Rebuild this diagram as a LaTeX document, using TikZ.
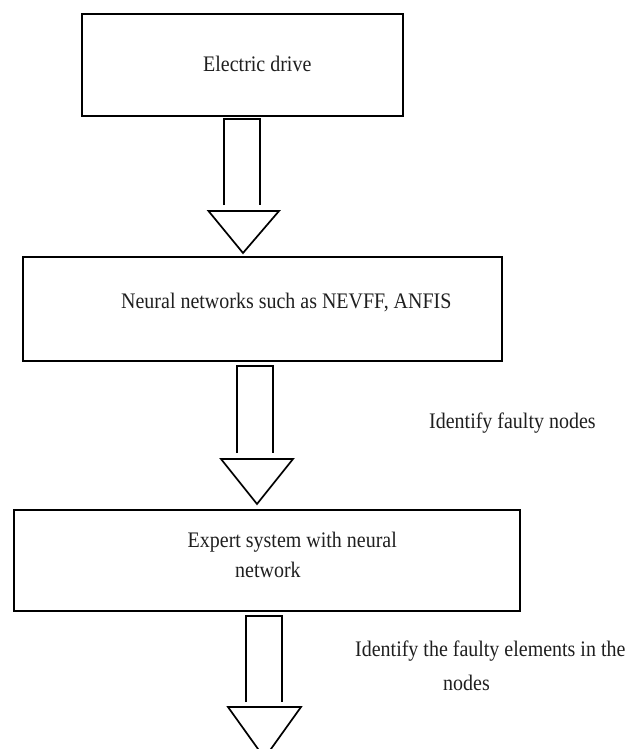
\documentclass[tikz,border=0pt]{standalone}
\usepackage{fontspec}
\setmainfont{Liberation Serif}[FakeStretch=0.9]
\begin{document}
\begin{tikzpicture}[x=1pt,y=-1pt,
  box/.style={draw=black, line width=1.9pt, rectangle, inner sep=0pt},
  lbl/.style={anchor=base west, inner sep=0pt, text=black!88, font=\fontsize{22.2}{26}\selectfont},
  shaft/.style={draw=black, line width=1.7pt},
  head/.style={draw=black, line width=1.7pt, line join=miter}]
\useasboundingbox (0,0) rectangle (629,749);
% boxes
\node[box, minimum width=321pt, minimum height=102pt] (b1) at (242.5,65) {};
\node[box, minimum width=479pt, minimum height=104pt] (b2) at (262.5,309) {};
\node[box, minimum width=506pt, minimum height=101pt] (b3) at (267,560.5) {};
% texts in boxes
\node[lbl] (t1) at (203,72) {Electric drive};
\node[lbl] (t2) at (121,308) {Neural networks such as NEVFF, ANFIS};
\node[lbl] (t3a) at (187.5,547) {Expert system with neural};
\node[lbl] (t3b) at (235,577) {network};
% side labels
\node[lbl] (l1) at (429,428) {Identify faulty nodes};
\node[lbl] (l2a) at (355,656) {Identify the faulty elements in the};
\node[lbl] (l2b) at (443,690) {nodes};
% arrow 1
\coordinate (s1l) at (224,205); \coordinate (s1r) at (260,205);
\draw[shaft] (s1l) -- (224,119) -- (260,119) -- (s1r);
\coordinate (h1l) at (208.5,211); \coordinate (h1r) at (279,211); \coordinate (h1t) at (243,253);
\draw[head] (h1l) -- (h1r) -- (h1t) -- cycle;
% arrow 2
\coordinate (s2l) at (237,453); \coordinate (s2r) at (273,453);
\draw[shaft] (s2l) -- (237,366) -- (273,366) -- (s2r);
\coordinate (h2l) at (221,459); \coordinate (h2r) at (293,459); \coordinate (h2t) at (257,504);
\draw[head] (h2l) -- (h2r) -- (h2t) -- cycle;
% arrow 3
\coordinate (s3l) at (246,702); \coordinate (s3r) at (282,702);
\draw[shaft] (s3l) -- (246,616) -- (282,616) -- (s3r);
\coordinate (h3l) at (228,707); \coordinate (h3r) at (301,707); \coordinate (h3t) at (264.5,758);
\begin{scope}
\clip (0,0) rectangle (629,749);
\draw[head] (h3l) -- (h3r) -- (h3t) -- cycle;
\end{scope}
\end{tikzpicture}
\end{document}
